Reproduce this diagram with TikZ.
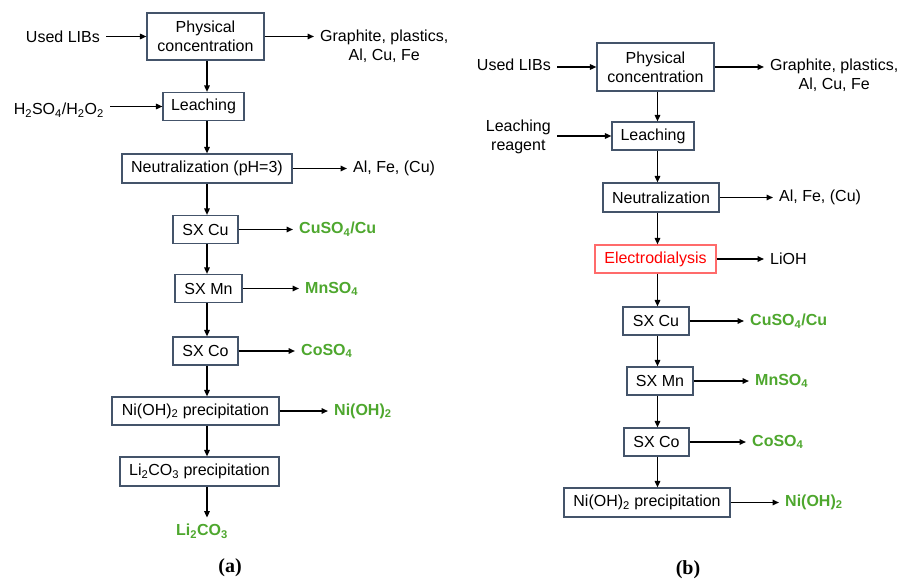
\documentclass[tikz,border=0pt]{standalone}
\usepackage{fontspec}
\newfontfamily\flowfont{Liberation Sans}
\newfontfamily\capfont{Liberation Serif}
\usepackage{tikz}
\usetikzlibrary{
	positioning,
	arrows.meta
}
\definecolor{boxline}{HTML}{44546A}
\definecolor{prodgreen}{HTML}{4EA72E}
\definecolor{edred}{HTML}{FF0000}
\definecolor{edline}{HTML}{FF6B6B}

\begin{document}
\begin{tikzpicture}[
		x=1pt, y=-1pt,
		every node/.style={font=\flowfont\fontsize{16}{19}\selectfont},
		proc/.style={draw=boxline, line width=1.1pt, minimum height=28pt, inner xsep=3pt, align=center},
		txt/.style={align=center, inner sep=2pt},
		prod/.style={txt, text=prodgreen, font=\flowfont\bfseries\fontsize{16}{19}\selectfont},
		flow/.style={line width=1.5pt, -{Triangle[length=6.5pt,width=5.5pt]}},
		flowin/.style={flow, shorten <=4pt},
		flowout/.style={flow, shorten >=4pt},
		panel/.style={font=\capfont\bfseries\fontsize{20}{24}\selectfont}
	]
	\useasboundingbox (0,0) rectangle (897,580);

	% (a) with Li2CO3 route
	\coordinate (ca) at (207,0);
	\node [proc,minimum width=117pt,minimum height=47pt] (physA)  at (205.5,36.5) {Physical\\concentration};
	\node [proc,minimum width=81pt]                      (leachA) at (203.5,106.5) {Leaching};
	\node [proc,minimum width=170pt,minimum height=29pt] (neutA)  at (207,168.5)   {Neutralization (pH=3)};
	\node [proc,minimum width=65pt]                      (sxcuA)  at (205.5,229.5) {SX Cu};
	\node [proc,minimum width=67pt]                      (sxmnA)  at (208.5,288.5) {SX Mn};
	\node [proc,minimum width=65pt]                      (sxcoA)  at (205.5,351)   {SX Co};
	\node [proc,minimum width=167pt]                     (niA)    at (195.5,411)   {Ni(OH)\textsubscript{2} precipitation};
	\node [proc,minimum width=159pt,minimum height=29pt] (liA)    at (199.5,471.5) {Li\textsubscript{2}CO\textsubscript{3} precipitation};

	\node [txt,anchor=east] (usedA) at (102,37)  {Used LIBs};
	\node [txt,anchor=east] (acidA) at (106,110) {H\textsubscript{2}SO\textsubscript{4}/H\textsubscript{2}O\textsubscript{2}};
	\node [txt,anchor=west] (outA)  at (318,46)  {Graphite, plastics,\\Al, Cu, Fe};
	\node [txt,anchor=west] (alA)   at (351,168) {Al, Fe, (Cu)};
	\node [prod,anchor=west] (cuA)  at (297,229) {CuSO\textsubscript{4}/Cu};
	\node [prod,anchor=west] (mnA)  at (303,289) {MnSO\textsubscript{4}};
	\node [prod,anchor=west] (coA)  at (299,351) {CoSO\textsubscript{4}};
	\node [prod,anchor=west] (nipA) at (332,411) {Ni(OH)\textsubscript{2}};
	\node [prod]             (lipA) at (202,531) {Li\textsubscript{2}CO\textsubscript{3}};

	\draw [flowin]  (physA.west -| usedA.east) -- (physA.west);
	\draw [flowin]  (leachA.west -| acidA.east) -- (leachA.west);
	\draw [flowout] (physA.east) -- (physA.east -| outA.west);
	\draw [flowout] (neutA.east) -- (neutA.east -| alA.west);
	\draw [flowout] (sxcuA.east) -- (sxcuA.east -| cuA.west);
	\draw [flowout] (sxmnA.east) -- (sxmnA.east -| mnA.west);
	\draw [flowout] (sxcoA.east) -- (sxcoA.east -| coA.west);
	\draw [flowout] (niA.east)   -- (niA.east -| nipA.west);

	\draw [flow] (physA.south -| ca)  -- (leachA.north -| ca);
	\draw [flow] (leachA.south -| ca) -- (neutA.north -| ca);
	\draw [flow] (neutA.south -| ca)  -- (sxcuA.north -| ca);
	\draw [flow] (sxcuA.south -| ca)  -- (sxmnA.north -| ca);
	\draw [flow] (sxmnA.south -| ca)  -- (sxcoA.north -| ca);
	\draw [flow] (sxcoA.south -| ca)  -- (niA.north -| ca);
	\draw [flow] (niA.south -| ca)    -- (liA.north -| ca);
	\draw [flowout] (liA.south -| ca) -- (lipA.north -| ca);

	% (b) with electrodialysis
	\coordinate (cb) at (657.5,0);
	\node [proc,minimum width=117pt,minimum height=48pt] (physB)  at (655.5,67)  {Physical\\concentration};
	\node [proc,minimum width=82pt]                      (leachB) at (653,136)   {Leaching};
	\node [proc,minimum width=116pt,minimum height=29pt] (neutB)  at (661,197.5) {Neutralization};
	\node [proc,minimum width=121pt,draw=edline,text=edred] (elecB) at (655.5,259) {Electrodialysis};
	\node [proc,minimum width=66pt]                      (sxcuB)  at (656,321)   {SX Cu};
	\node [proc,minimum width=66pt]                      (sxmnB)  at (660,381)   {SX Mn};
	\node [proc,minimum width=65pt]                      (sxcoB)  at (656.5,442) {SX Co};
	\node [proc,minimum width=166pt,minimum height=29pt] (niB)    at (647,502.5) {Ni(OH)\textsubscript{2} precipitation};

	\node [txt,anchor=east] (usedB)    at (553,65)  {Used LIBs};
	\node [txt,anchor=east] (reagentB) at (553,137) {Leaching\\reagent};
	\node [txt,anchor=west] (outB)     at (768,75)  {Graphite, plastics,\\Al, Cu, Fe};
	\node [txt,anchor=west] (alB)      at (777,197) {Al, Fe, (Cu)};
	\node [txt,anchor=west] (liohB)    at (768,259) {LiOH};
	\node [prod,anchor=west] (cuB)  at (748,321) {CuSO\textsubscript{4}/Cu};
	\node [prod,anchor=west] (mnB)  at (753,381) {MnSO\textsubscript{4}};
	\node [prod,anchor=west] (coB)  at (750,442) {CoSO\textsubscript{4}};
	\node [prod,anchor=west] (nipB) at (783,502) {Ni(OH)\textsubscript{2}};

	\draw [flowin]  (physB.west -| usedB.east) -- (physB.west);
	\draw [flowin]  (leachB.west -| reagentB.east) -- (leachB.west);
	\draw [flowout] (physB.east) -- (physB.east -| outB.west);
	\draw [flowout] (neutB.east) -- (neutB.east -| alB.west);
	\draw [flowout] (elecB.east) -- (elecB.east -| liohB.west);
	\draw [flowout] (sxcuB.east) -- (sxcuB.east -| cuB.west);
	\draw [flowout] (sxmnB.east) -- (sxmnB.east -| mnB.west);
	\draw [flowout] (sxcoB.east) -- (sxcoB.east -| coB.west);
	\draw [flowout] (niB.east)   -- (niB.east -| nipB.west);

	\draw [flow] (physB.south -| cb)  -- (leachB.north -| cb);
	\draw [flow] (leachB.south -| cb) -- (neutB.north -| cb);
	\draw [flow] (neutB.south -| cb)  -- (elecB.north -| cb);
	\draw [flow] (elecB.south -| cb)  -- (sxcuB.north -| cb);
	\draw [flow] (sxcuB.south -| cb)  -- (sxmnB.north -| cb);
	\draw [flow] (sxmnB.south -| cb)  -- (sxcoB.north -| cb);
	\draw [flow] (sxcoB.south -| cb)  -- (niB.north -| cb);

	\node [panel] (capA) at (230,568) {(a)};
	\node [panel] (capB) at (688,570) {(b)};
\end{tikzpicture}
\end{document}
